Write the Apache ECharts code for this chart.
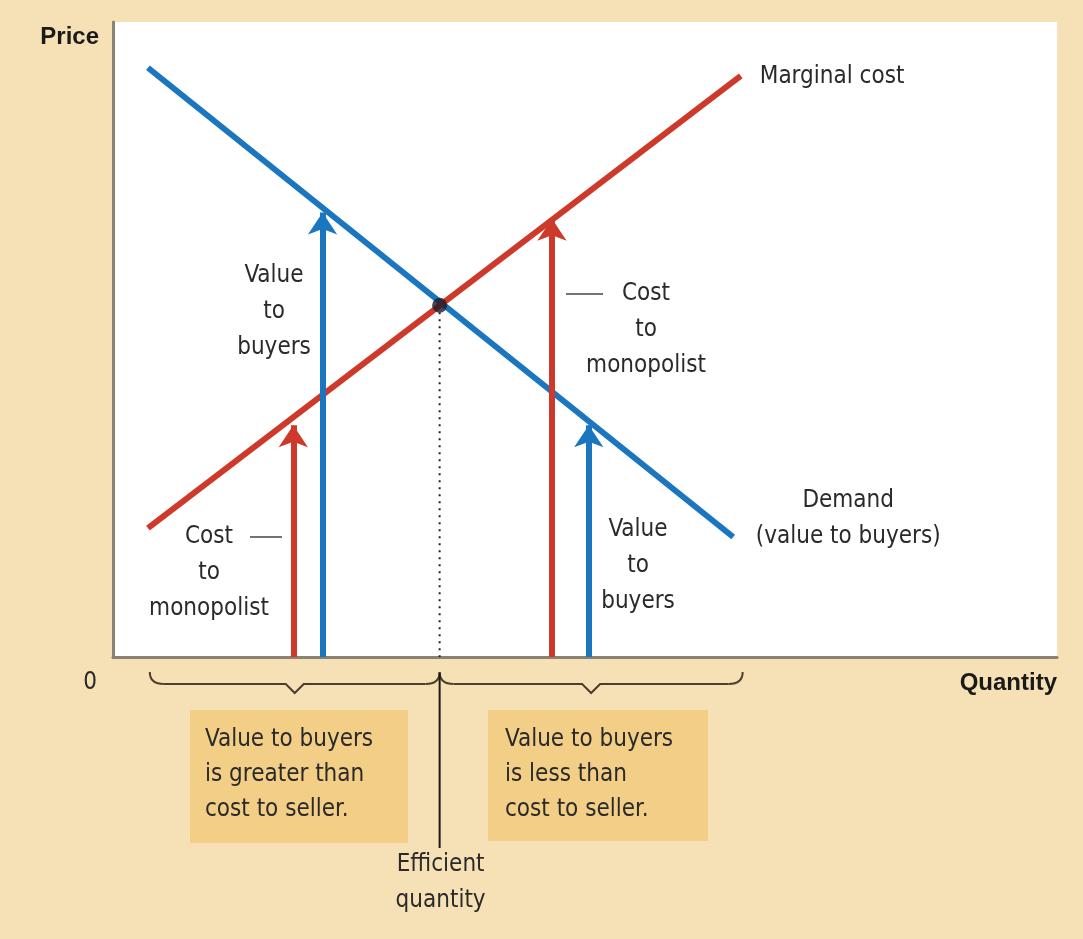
<!DOCTYPE html>
<html><head><meta charset="utf-8">
<script src="https://cdn.jsdelivr.net/npm/echarts@6/dist/echarts.min.js"></script>
<style>html,body{margin:0;padding:0;background:#f6e0b6;}#c{width:1083px;height:939px;}</style>
</head><body><div id="c"></div>
<script>
// ---- data (axis units 0..100) ----
const demandQ = [3.7, 65.7];
const demandP = [92.8, 18.9];
const mcQ = [3.7, 66.5];
const mcP = [20.3, 91.5];
const efficientQ = 34.6;
const efficientP = 55.4;
const costArrowQ = [19.1, 46.5];
const costArrowP = [36.5, 69.0];
const valueArrowQ = [22.2, 50.4];
const valueArrowP = [70.0, 36.5];
const braceRanges = [[3.9, 34.6], [34.6, 66.7]];

const RED = '#cd3a2b', BLUE = '#1b76c0', TXT = '#2a2a2a';
const FONT = '"Liberation Sans Narrow","DejaVu Sans Condensed",sans-serif';

const chart = echarts.init(document.getElementById('c'));
const option = {
  backgroundColor: '#f6e0b6',
  animation: false,
  grid: {left: 113, right: 26, top: 22, bottom: 282, show: true, backgroundColor: '#ffffff', borderWidth: 0},
  xAxis: {
    type: 'value', min: 0, max: 100,
    axisLine: {show: true, lineStyle: {color: '#8a8272', width: 3}},
    axisTick: {show: false}, splitLine: {show: false},
    axisLabel: {formatter: v => v === 0 ? '0' : '', align: 'right', padding: [0, 16, 0, 0], margin: 14,
      fontFamily: FONT, fontSize: 24, color: TXT},
    name: 'Quantity', nameLocation: 'end', nameGap: 0,
    nameTextStyle: {align: 'right', verticalAlign: 'top', padding: [14, 0, 0, 0], fontWeight: 'bold',
      fontSize: 24, color: '#1a1a1a', fontFamily: '"Liberation Sans",sans-serif'}
  },
  yAxis: {
    type: 'value', min: 0, max: 100,
    axisLine: {show: true, lineStyle: {color: '#8a8272', width: 3}},
    axisTick: {show: false}, splitLine: {show: false}, axisLabel: {show: false},
    name: 'Price', nameLocation: 'end', nameGap: -15,
    nameTextStyle: {align: 'right', verticalAlign: 'middle', padding: [0, 14, 0, 0], fontWeight: 'bold',
      fontSize: 24, color: '#1a1a1a', fontFamily: '"Liberation Sans",sans-serif'}
  },
  series: [
    {type: 'line', name: 'Demand', data: demandQ.map((q, i) => [q, demandP[i]]), symbol: 'none',
      lineStyle: {color: BLUE, width: 6}, z: 3},
    {type: 'line', name: 'Marginal cost', data: mcQ.map((q, i) => [q, mcP[i]]), symbol: 'none',
      lineStyle: {color: RED, width: 6}, z: 3},
    {type: 'line', name: 'efficient', data: [[efficientQ, efficientP], [efficientQ, 0]], symbol: 'none',
      lineStyle: {color: '#222', width: 2, type: [2, 5]}, z: 2},
    {type: 'lines', coordinateSystem: 'cartesian2d', symbol: ['none', 'arrow'], symbolSize: [14, 22],
      lineStyle: {color: RED, width: 6, opacity: 1}, z: 4,
      data: costArrowQ.map((q, i) => ({coords: [[q, 0], [q, costArrowP[i]]]}))},
    {type: 'lines', coordinateSystem: 'cartesian2d', symbol: ['none', 'arrow'], symbolSize: [14, 22],
      lineStyle: {color: BLUE, width: 6, opacity: 1}, z: 4,
      data: valueArrowQ.map((q, i) => ({coords: [[q, 0], [q, valueArrowP[i]]]}))},
    {type: 'scatter', data: [[efficientQ, efficientP]], symbolSize: 15,
      itemStyle: {color: '#1c1a2a'}, z: 6}
  ]
};
chart.setOption(option);

// ---- annotations positioned from the axes ----
const px = (q, p) => chart.convertToPixel({gridIndex: 0}, [q, p]);
const y0 = px(0, 0)[1];
const g = [];
function text(t, x, y, align, extra) {
  g.push({type: 'text', z: 10, style: Object.assign({text: t, x: x, y: y, font: '24px ' + FONT, fill: TXT,
    align: align || 'center', verticalAlign: 'middle', lineHeight: 36}, extra || {})});
}
const BR = {stroke: '#4a3f2c', lineWidth: 2, fill: null};
// braces
braceRanges.forEach(r => {
  const a = px(r[0], 0)[0], b = px(r[1], 0)[0], m = (a + b) / 2;
  const yb = y0 + 27, top = y0 + 15;
  g.push({type: 'bezierCurve', z: 10, shape: {x1: a, y1: top, x2: a + 14, y2: yb, cpx1: a, cpy1: yb}, style: BR});
  g.push({type: 'bezierCurve', z: 10, shape: {x1: b, y1: top, x2: b - 14, y2: yb, cpx1: b, cpy1: yb}, style: BR});
  g.push({type: 'polyline', z: 10, shape: {points: [[a + 14, yb], [m - 9, yb], [m, yb + 9], [m + 9, yb], [b - 14, yb]]}, style: BR});
});
const ex = px(efficientQ, 0)[0];
g.push({type: 'line', z: 10, shape: {x1: ex, y1: y0 + 16, x2: ex, y2: y0 + 191}, style: {stroke: '#1a1a1a', lineWidth: 2}});
text('Efficient\nquantity', ex + 1, y0 + 226);
// boxes
g.push({type: 'rect', z: 9, shape: {x: 190, y: 710, width: 218, height: 133}, style: {fill: '#f2ce86'}});
g.push({type: 'rect', z: 9, shape: {x: 488, y: 710, width: 220, height: 131}, style: {fill: '#f2ce86'}});
text('Value to buyers\nis greater than\ncost to seller.', 205, 775, 'left', {lineHeight: 35});
text('Value to buyers\nis less than\ncost to seller.', 505, 775, 'left', {lineHeight: 35});
// curve labels
const mcEnd = px(mcQ[1], mcP[1]);
text('Marginal cost', mcEnd[0] + 19, mcEnd[1] + 1, 'left');
const dEnd = px(demandQ[1], demandP[1]);
text('Demand\n(value to buyers)', dEnd[0] + 115, dEnd[1] - 18);
// arrow labels
text('Value\nto\nbuyers', 274, 312);
text('Value\nto\nbuyers', 638, 566);
text('Cost\nto\nmonopolist', 209, 573);
g.push({type: 'line', z: 10, shape: {x1: 250, y1: 537, x2: 282, y2: 537}, style: {stroke: '#444', lineWidth: 1.5}});
text('Cost\nto\nmonopolist', 646, 330);
g.push({type: 'line', z: 10, shape: {x1: 566, y1: 294, x2: 603, y2: 294}, style: {stroke: '#444', lineWidth: 1.5}});
chart.setOption({graphic: g});
</script></body></html>
